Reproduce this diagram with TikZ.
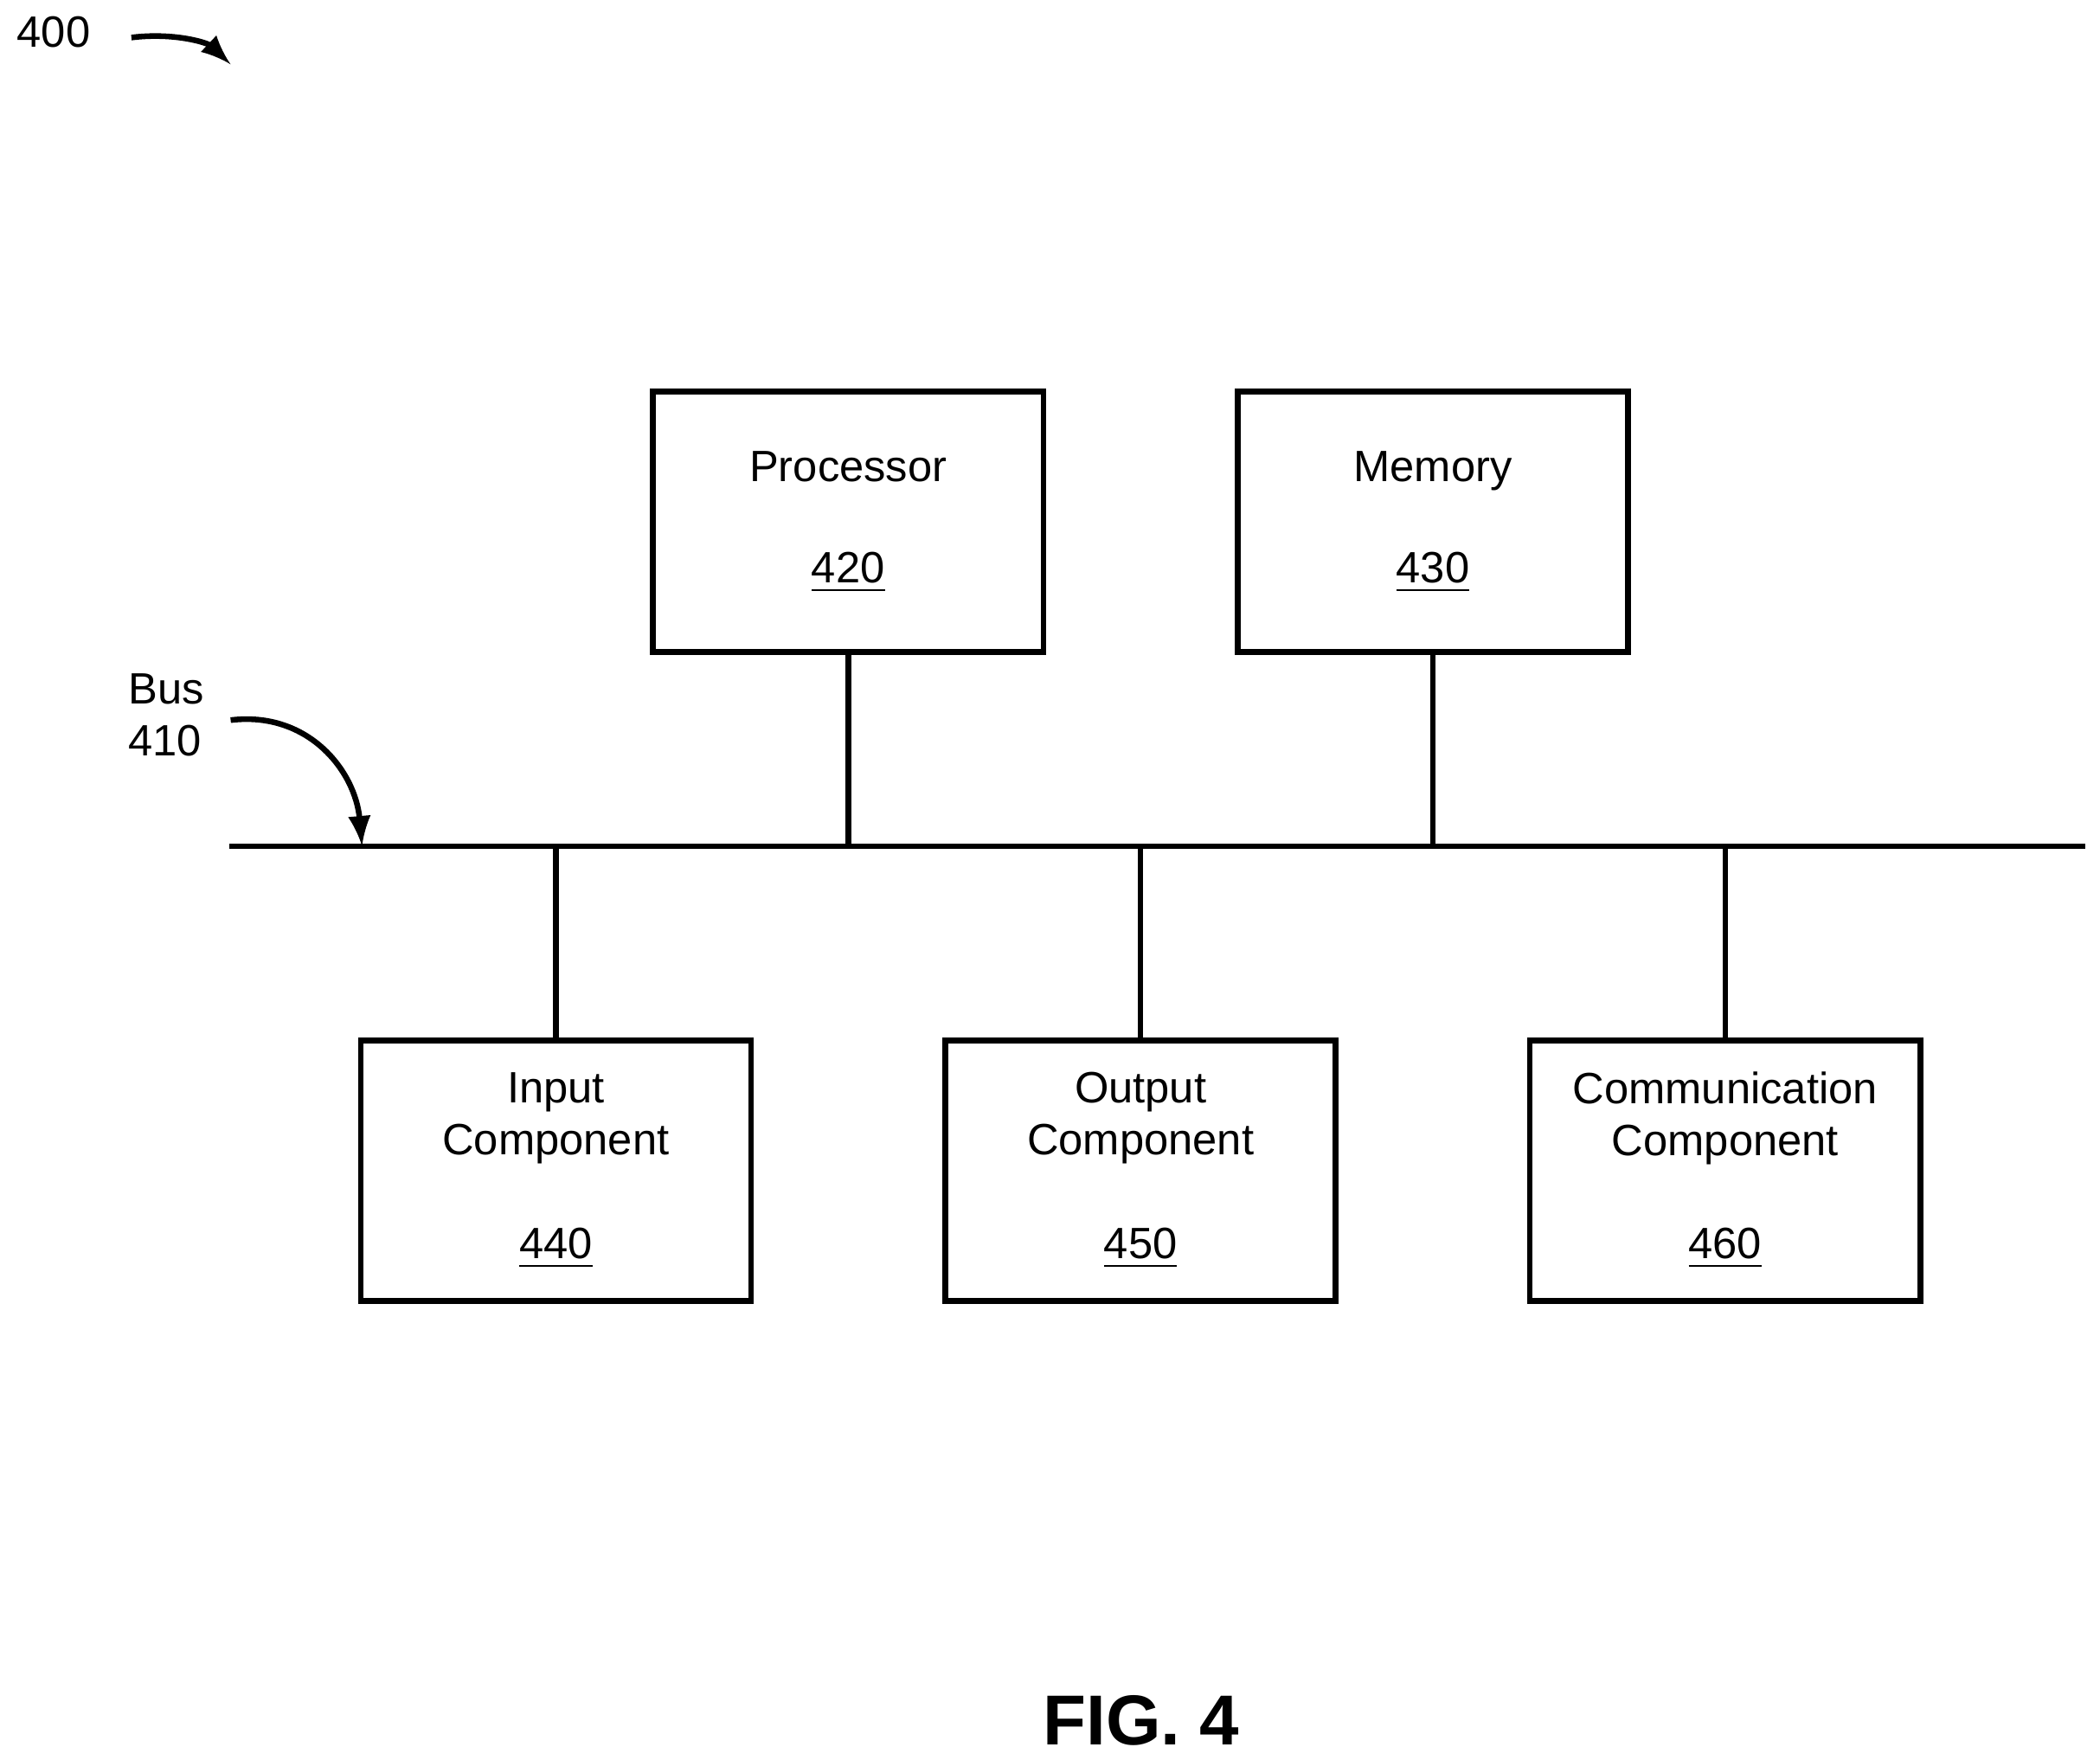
\documentclass[tikz,border=0pt]{standalone}
\usepackage{fontspec}
\setmainfont{Liberation Sans}
\usetikzlibrary{positioning}
\tikzset{
  block/.style={draw, line width=1.2pt, minimum width=2.91cm, minimum height=1.94cm, inner sep=0pt},
  lbl/.style={font=\fontsize{9.3}{11}\selectfont, align=center},
  link/.style={line width=1.2pt},
}
\begin{document}
\begin{tikzpicture}[x=0.01cm, y=-0.01cm]
    \useasboundingbox (0,0) rectangle (1566,1312.4);

    %bus
    \coordinate (busL) at (171,631);
    \coordinate (busR) at (1555,631);
    \draw[link] (busL) -- (busR);

    %top
    \node[block] (proc) at (632.5,389) {};
    \node[block] (mem) at (1068.5,389) {};
    \node[lbl, anchor=base] (procT) at (632.5,359) {Processor};
    \node[lbl] (procN) at (632.5,427) {\underline{420}};
    \node[lbl, anchor=base] (memT) at (1068.5,359) {Memory};
    \node[lbl] (memN) at (1068.5,427) {\underline{430}};

    %bottom
    \node[block] (inp) at (414.5,873) {};
    \node[block] (out) at (850.5,873) {};
    \node[block] (comm) at (1286.5,873) {};
    \node[lbl] (inpT) at (414.5,834) {Input\\Component};
    \node[lbl] (inpN) at (414.5,931) {\underline{440}};
    \node[lbl] (outT) at (850.5,834) {Output\\Component};
    \node[lbl] (outN) at (850.5,931) {\underline{450}};
    \node[lbl] (commT) at (1286.5,834) {Communication\\Component};
    \node[lbl] (commN) at (1286.5,931) {\underline{460}};

    \foreach \n in {proc,mem}
        \draw[link] (\n.south) -- (\n.south |- busL);
    \foreach \n in {inp,out,comm}
        \draw[link] (\n.north) -- (\n.north |- busL);

    %labels
    \node[lbl] (fig) at (40,24) {400};
    \coordinate (figA) at (98,28);
    \coordinate (figB) at (172,48);
    \draw[link,->,>=latex] (figA) .. controls (130,24) and (155,32) .. (figB);

    \node[lbl, align=left] (bus) at (124,533) {Bus\\410};
    \coordinate (busA) at (172,537);
    \coordinate (busB) at (270,631);
    \draw[link,->,>=latex] (busA) .. controls (230,530) and (265,575) .. (busB);

    \node[font=\bfseries\fontsize{15}{18}\selectfont] (cap) at (851,1283) {FIG. 4};
\end{tikzpicture}
\end{document}
